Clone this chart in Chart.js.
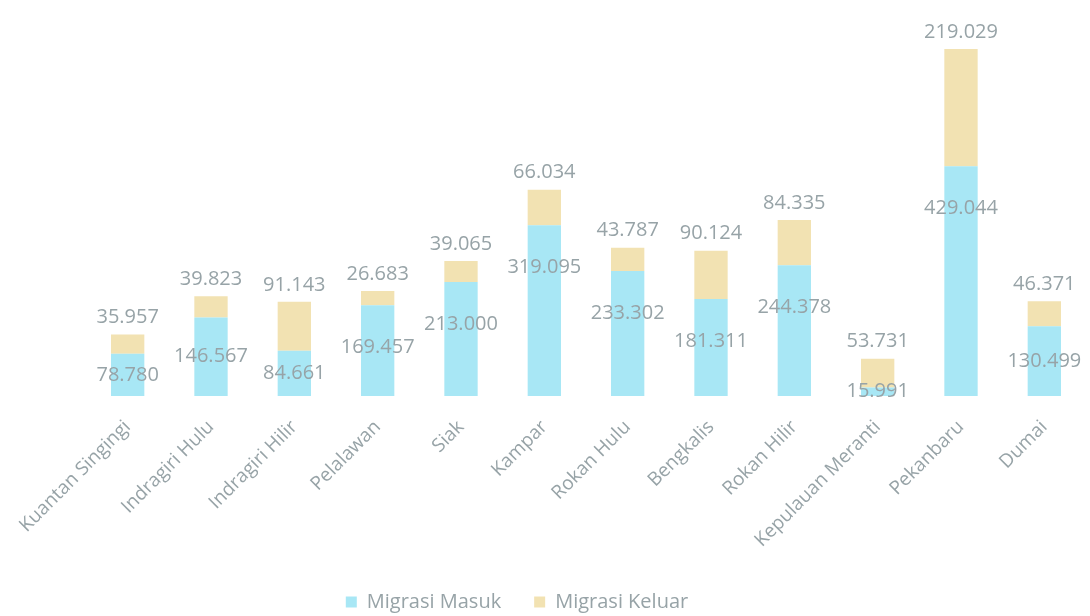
<!DOCTYPE html>
<html>
<head>
<meta charset="utf-8">
<script src="https://cdn.jsdelivr.net/npm/chart.js@4.4.0/dist/chart.umd.min.js"></script>
<style>
  html, body { margin: 0; padding: 0; background: #fff; }
  #wrap { width: 1090px; height: 616px; }
</style>
</head>
<body>
<div id="wrap"><canvas id="migrasiChart"></canvas></div>
<script>
let kabupaten = ['Kuantan Singingi', 'Indragiri Hulu', 'Indragiri Hilir', 'Pelalawan', 'Siak', 'Kampar',
    'Rokan Hulu', 'Bengkalis', 'Rokan Hilir', 'Kepulauan Meranti', 'Pekanbaru', 'Dumai'];
let migrasiMasuk = [78780, 146567, 84661, 169457, 213000, 319095, 233302, 181311, 244378, 15991, 429044, 130499];
let migrasiKeluar = [35957, 39823, 91143, 26683, 39065, 66034, 43787, 90124, 84335, 53731, 219029, 46371];

const textColor = '#97a3a7';
const fontName = "'Open Sans', sans-serif";

function fmt(v) {
    return String(v).replace(/\B(?=(\d{3})+(?!\d))/g, '.');
}

// value labels: masuk inside the cyan bar, keluar above the stack
const valueLabels = {
    id: 'valueLabels',
    afterDatasetsDraw(chart) {
        const ctx = chart.ctx;
        ctx.save();
        ctx.font = '20px ' + fontName;
        ctx.fillStyle = textColor;
        ctx.textAlign = 'center';
        ctx.textBaseline = 'middle';
        const masukBars = chart.getDatasetMeta(0).data;
        const keluarBars = chart.getDatasetMeta(1).data;
        masukBars.forEach((bar, i) => {
            let h = bar.base - bar.y;
            ctx.fillText(fmt(migrasiMasuk[i]), bar.x, bar.y + Math.min(h / 2, 42));
        });
        keluarBars.forEach((bar, i) => {
            ctx.fillText(fmt(migrasiKeluar[i]), bar.x, bar.y - 17);
        });
        ctx.restore();
    }
};

// the legend in the original sits a bit left of the plot centre
const legendShift = {
    id: 'legendShift',
    afterLayout(chart) {
        chart.legend.left -= 69;
        chart.legend.right -= 69;
    }
};

function buildChart() {
    let ctx = document.getElementById('migrasiChart').getContext('2d');
    new Chart(ctx, {
        type: 'bar',
        data: {
            labels: kabupaten,
            datasets: [{
                label: 'Migrasi Masuk',
                data: migrasiMasuk,
                backgroundColor: 'rgb(168, 231, 245)'
            }, {
                label: 'Migrasi Keluar',
                data: migrasiKeluar,
                backgroundColor: 'rgb(242, 226, 178)'
            }]
        },
        options: {
            responsive: true,
            maintainAspectRatio: false,
            animation: false,
            barPercentage: 0.4,
            categoryPercentage: 1,
            layout: { padding: { top: 49, right: 4, left: 86, bottom: 0 } },
            scales: {
                x: {
                    stacked: true,
                    grid: { display: false },
                    border: { display: false },
                    ticks: {
                        color: textColor,
                        font: { family: fontName, size: 19 },
                        minRotation: 45,
                        maxRotation: 45,
                        padding: 12
                    },
                    afterFit(scale) {
                        scale.height = 163;
                    }
                },
                y: {
                    stacked: true,
                    display: false,
                    min: 0,
                    max: 648073
                }
            },
            plugins: {
                legend: {
                    position: 'bottom',
                    maxHeight: 57,
                    labels: {
                        color: textColor,
                        font: { family: fontName, size: 20 },
                        boxWidth: 11,
                        boxHeight: 11,
                        padding: 33
                    }
                },
                tooltip: { enabled: false }
            }
        },
        plugins: [valueLabels, legendShift]
    });
}

buildChart();
</script>
</body>
</html>
